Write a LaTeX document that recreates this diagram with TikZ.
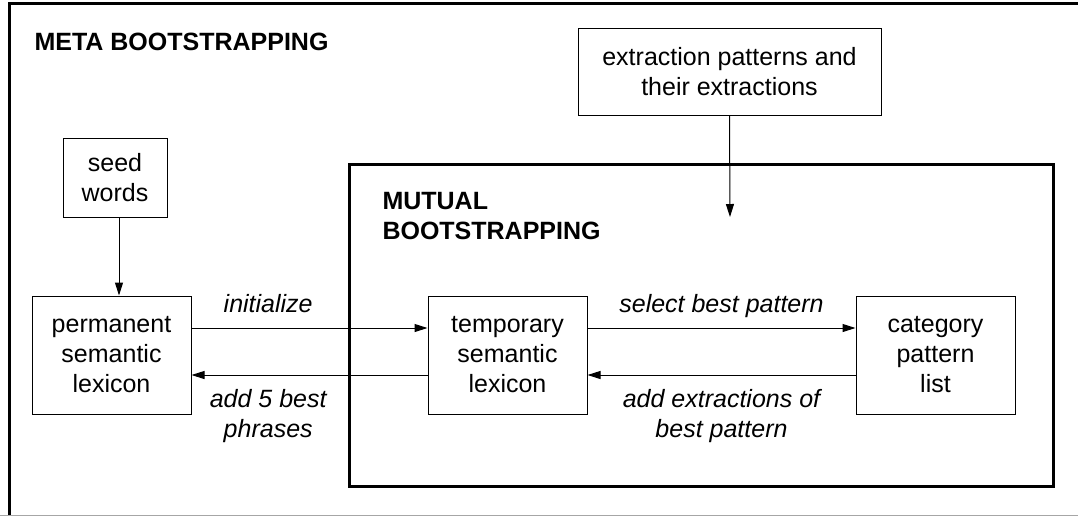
\documentclass[tikz,border=0pt]{standalone}
\usepackage{fontspec}
\setmainfont{Liberation Sans}
\usetikzlibrary{arrows.meta}

\begin{document}
\begin{tikzpicture}[x=0.5pt, y=-0.5pt, line width=0.5pt,
  font=\fontsize{12.5}{15}\selectfont,
  >={Triangle[length=6.5pt,width=4pt]},
  box/.style={draw, align=center, inner sep=0pt},
  lbl/.style={font=\fontsize{12.5}{15}\selectfont\itshape, align=center},
  heading/.style={font=\fontsize{12.5}{15}\selectfont\bfseries, align=left, anchor=base west, inner sep=0pt}]
\useasboundingbox (0,0) rectangle (1078,516);

% outer frame, runs off on the right
\draw[line width=1.5pt] (1078,3.5) -- (9.5,3.5) -- (9.5,516);
\draw[black!35] (0,515) -- (1078,515);
\node[heading] (meta) at (34,50) {META BOOTSTRAPPING};

% inner loop (base anchor sits on the last line)
\draw[line width=1.5pt] (349,164.5) rectangle (1053.5,486);
\node[heading] (mutual) at (382,239) {MUTUAL\\BOOTSTRAPPING};

% boxes
\node[box, minimum width=52pt, minimum height=39.5pt] (seed) at (115,177.5) {seed\\words};
\node[box, minimum width=79.5pt, minimum height=59pt] (perm) at (111.5,355) {permanent\\semantic\\lexicon};
\node[box, minimum width=79.5pt, minimum height=59pt] (temp) at (507.5,355) {temporary\\semantic\\lexicon};
\node[box, minimum width=79.5pt, minimum height=59pt] (cat) at (935.5,355) {category\\pattern\\list};
\node[box, minimum width=151.5pt, minimum height=43.5pt] (extr) at (729.5,71.5) {extraction patterns and\\their extractions};
\coordinate (extrend) at (730,217);

% arrows
\draw[->] ([xshift=2pt]seed.south) -- ([xshift=2pt]seed.south |- perm.north);
\draw[->] (extr.south) -- (extrend);
\draw[->] ([yshift=13.5pt]perm.east) -- node[lbl, pos=0.325, anchor=base, yshift=8pt] {initialize} ([yshift=13.5pt]temp.west);
\draw[->] ([yshift=-10pt]temp.west) -- node[lbl, pos=0.675, anchor=base, yshift=-31pt] {add 5 best\\phrases} ([yshift=-10pt]perm.east);
\draw[->] ([yshift=13.5pt]temp.east) -- node[lbl, anchor=base, yshift=8pt] {select best pattern} ([yshift=13.5pt]cat.west);
\draw[->] ([yshift=-10pt]cat.west) -- node[lbl, anchor=base, yshift=-31pt] {add extractions of\\best pattern} ([yshift=-10pt]temp.east);
\end{tikzpicture}
\end{document}
